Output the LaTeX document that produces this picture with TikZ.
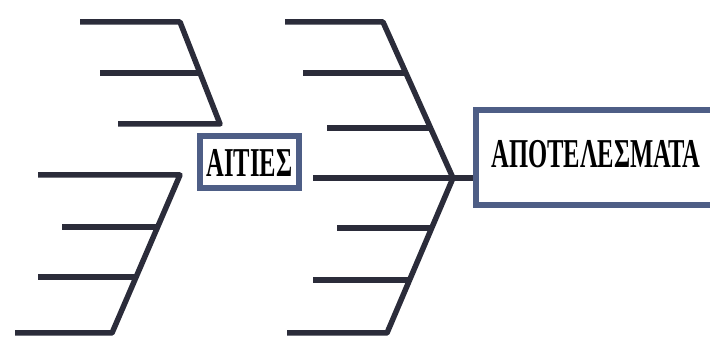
\documentclass[tikz,border=0pt]{standalone}
\usepackage{fontspec}
\newfontfamily\boxfont{Liberation Serif}[FakeStretch=0.6]
\definecolor{bone}{HTML}{2B2C3A}
\definecolor{frame}{HTML}{4E5E86}
\begin{document}
\begin{tikzpicture}[x=1pt,y=-1pt,
  bonestyle/.style={draw=bone,line width=5.5pt,line join=round,line cap=butt},
  labelbox/.style={draw=frame,line width=6pt,fill=white,inner sep=0pt,
    font=\boxfont\bfseries\fontsize{41}{44}\selectfont,text=black}]
\useasboundingbox (0,0) rectangle (710,347);
\clip (0,0) rectangle (710,347);

% --- causes, upper-left bone group
\coordinate (ua1) at (80,22);   \coordinate (ua2) at (180,22);
\coordinate (ub1) at (100,73);  \coordinate (ub2) at (200,73);
\coordinate (uc1) at (118,124); \coordinate (uc2) at (220,124);
\draw[bonestyle] (ua1) -- (ua2) -- (uc2) -- (uc1);
\draw[bonestyle] (ub1) -- (ub2);

% --- causes, lower-left bone group
\coordinate (la1) at (38,175);  \coordinate (la2) at (180,175);
\coordinate (lb1) at (62,227);  \coordinate (lb2) at (157.6,227);
\coordinate (lc1) at (38,277);  \coordinate (lc2) at (136,277);
\coordinate (ld1) at (15,333);  \coordinate (ld2) at (112,333);
\draw[bonestyle] (la1) -- (la2) -- (ld2) -- (ld1);
\draw[bonestyle] (lb1) -- (lb2);
\draw[bonestyle] (lc1) -- (lc2);

% --- labels
\node[labelbox,minimum width=99pt,minimum height=52pt] (causes) at (249.5,162.5) {ΑΙΤΙΕΣ};
\node[labelbox,minimum width=240pt,minimum height=95pt,text depth=7pt] (effects) at (596,157.5) {ΑΠΟΤΕΛΕΣΜΑΤΑ};

% --- main fish skeleton
\coordinate (head) at (453,178);
\coordinate (tail) at (313,178);
\coordinate (ma1) at (285,22);  \coordinate (ma2) at (383,22);
\coordinate (mb1) at (303,73);  \coordinate (mb2) at (405.9,73);
\coordinate (mc1) at (327,128); \coordinate (mc2) at (430.6,128);
\coordinate (md1) at (337,228); \coordinate (md2) at (431.7,228);
\coordinate (me1) at (313,280); \coordinate (me2) at (409.6,280);
\coordinate (mf1) at (287,333); \coordinate (mf2) at (387,333);
\draw[bonestyle] (ma1) -- (ma2) -- (head) -- (mf2) -- (mf1);
\draw[bonestyle] (mb1) -- (mb2);
\draw[bonestyle] (mc1) -- (mc2);
\draw[bonestyle] (md1) -- (md2);
\draw[bonestyle] (me1) -- (me2);
\draw[bonestyle] (tail) -- (tail -| effects.west);
\end{tikzpicture}
\end{document}
